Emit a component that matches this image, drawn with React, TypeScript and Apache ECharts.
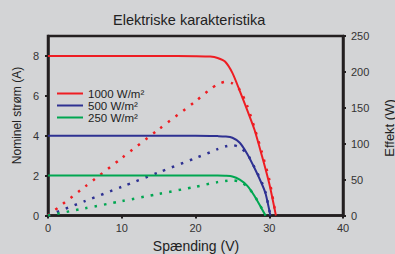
import React, { useEffect, useRef } from "react";
import * as echarts from "echarts";

const titleText = "Elektriske karakteristika";
const xName = "Spænding (V)";
const yLeftName = "Nominel strøm (A)";
const yRightName = "Effekt (W)";

const seriesNames = ["1000 W/m²", "500 W/m²", "250 W/m²"];
const seriesColors = ["#ee1d23", "#2e3192", "#00a651"];

const volts1000 = [0, 5, 10, 15, 20, 22, 23, 24, 25, 26, 27, 28, 29, 30, 30.9];
const current1000 = [8, 8, 8, 8, 7.99, 7.97, 7.9, 7.72, 7.15, 6.25, 5.3, 4.3, 3.0, 1.6, 0];
const power1000 = [0, 40, 80, 120, 159, 176, 182.5, 186, 184, 175, 153, 122, 88, 50, 0];

const volts500 = [0, 5, 10, 15, 20, 22, 23, 24, 25, 26, 27, 28, 29, 29.5, 30.15];
const current500 = [4, 4, 4, 4, 4, 3.99, 3.98, 3.96, 3.9, 3.65, 3.1, 2.38, 1.58, 1.1, 0];
const power500 = [0, 20, 40, 60, 80, 88, 92.5, 96, 98, 95, 86, 67, 46, 32, 0];

const volts250 = [0, 5, 10, 15, 20, 22, 23, 24, 25, 26, 27, 28, 29, 29.5];
const current250 = [2, 2, 2, 2, 2, 2, 2, 1.99, 1.96, 1.8, 1.5, 0.98, 0.33, 0];
const power250 = [0, 10, 20, 30, 40, 44.5, 46.5, 48, 49, 47, 40.5, 27.5, 9.6, 0];

const FONT = "Liberation Sans, Arial, sans-serif";

function zip(xs: number[], ys: number[]) {
  return xs.map((x, i) => [x, ys[i]]);
}

export default function App() {
  const ref = useRef<HTMLDivElement>(null);
  useEffect(() => {
    if (!ref.current) return;
    const chart = echarts.init(ref.current, undefined, { renderer: "svg" });
    const volts = [volts1000, volts500, volts250];
    const currents = [current1000, current500, current250];
    const powers = [power1000, power500, power250];
    const series: any[] = [];
    for (let i = 0; i < 3; i++) {
      series.push({
        name: seriesNames[i],
        type: "line",
        yAxisIndex: 0,
        data: zip(volts[i], currents[i]),
        showSymbol: false,
        smooth: 0.25,
        lineStyle: { color: seriesColors[i], width: 2 },
        itemStyle: { color: seriesColors[i] },
        z: 3,
      });
      series.push({
        name: "P " + seriesNames[i],
        type: "line",
        yAxisIndex: 1,
        data: zip(volts[i], powers[i]),
        showSymbol: false,
        smooth: 0.25,
        lineStyle: { color: seriesColors[i], width: 2.5, type: [2.5, 7] },
        itemStyle: { color: seriesColors[i] },
        z: 2,
      });
    }
    const axisLine = { show: true, lineStyle: { color: "#231f20", width: 2.5 } };
    const axisTick = { show: true, length: 3, lineStyle: { color: "#231f20", width: 2 } };
    const labelStyle = { fontSize: 11, color: "#333", fontFamily: FONT };
    const nameStyle = { fill: "#222", fontSize: 13, fontFamily: FONT, textAlign: "center", textVerticalAlign: "middle" };
    chart.setOption({
      animation: false,
      backgroundColor: "#d3d4d6",
      title: {
        text: titleText,
        left: 113,
        top: 12,
        padding: 0,
        textStyle: { fontSize: 14.5, fontWeight: "normal", color: "#222", fontFamily: FONT },
      },
      legend: {
        data: seriesNames,
        orient: "vertical",
        left: 57,
        top: 87.5,
        padding: 0,
        icon: "rect",
        itemWidth: 26,
        itemHeight: 2,
        itemGap: 0,
        textStyle: { fontSize: 11.5, color: "#222", lineHeight: 11, fontFamily: FONT },
      },
      graphic: [
        { type: "text", x: 196, y: 245.5, style: { ...nameStyle, text: xName, fontSize: 14 } },
        { type: "text", x: 17, y: 115.5, rotation: Math.PI / 2, style: { ...nameStyle, text: yLeftName, fontSize: 12 } },
        { type: "text", x: 389, y: 128, rotation: Math.PI / 2, style: { ...nameStyle, text: yRightName, fontSize: 13 } },
      ],
      grid: {
        left: 48,
        right: 52,
        top: 36,
        bottom: 38.5,
        show: true,
        borderColor: "#231f20",
        borderWidth: 2.5,
        backgroundColor: "transparent",
        outerBoundsMode: "none",
        containLabel: false,
      },
      xAxis: {
        type: "value",
        min: 0,
        max: 40,
        interval: 10,
        axisLine,
        axisTick,
        splitLine: { show: false },
        axisLabel: { ...labelStyle, margin: 7 },
      },
      yAxis: [
        {
          type: "value",
          min: 0,
          max: 9,
          interval: 2,
          axisLine,
          axisTick,
          splitLine: { show: false },
          axisLabel: { ...labelStyle, margin: 9, showMaxLabel: false },
        },
        {
          type: "value",
          min: 0,
          max: 250,
          interval: 50,
          position: "right",
          axisLine,
          axisTick,
          splitLine: { show: false },
          axisLabel: { ...labelStyle, margin: 8 },
        },
      ],
      series,
    });
    return () => chart.dispose();
  }, []);
  return (
    <div
      ref={ref}
      style={{ position: "fixed", left: 0, top: 0, width: 395, height: 254 }}
    />
  );
}
